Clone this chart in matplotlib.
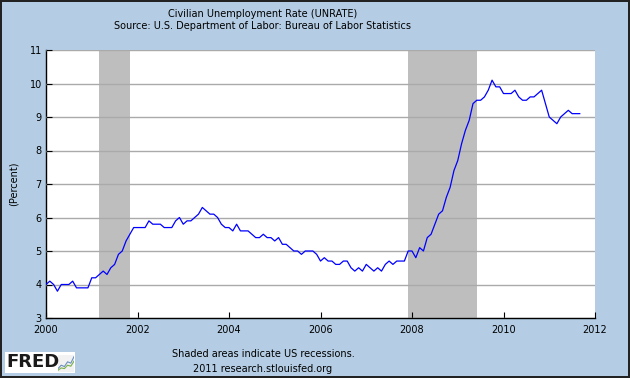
import numpy as np
import matplotlib.pyplot as plt
from matplotlib.patches import Rectangle

# Civilian unemployment rate, monthly, Jan 2000 - Sep 2011 (percent)
rate_2000 = [4.0, 4.1, 4.0, 3.8, 4.0, 4.0, 4.0, 4.1, 3.9, 3.9, 3.9, 3.9]
rate_2001 = [4.2, 4.2, 4.3, 4.4, 4.3, 4.5, 4.6, 4.9, 5.0, 5.3, 5.5, 5.7]
rate_2002 = [5.7, 5.7, 5.7, 5.9, 5.8, 5.8, 5.8, 5.7, 5.7, 5.7, 5.9, 6.0]
rate_2003 = [5.8, 5.9, 5.9, 6.0, 6.1, 6.3, 6.2, 6.1, 6.1, 6.0, 5.8, 5.7]
rate_2004 = [5.7, 5.6, 5.8, 5.6, 5.6, 5.6, 5.5, 5.4, 5.4, 5.5, 5.4, 5.4]
rate_2005 = [5.3, 5.4, 5.2, 5.2, 5.1, 5.0, 5.0, 4.9, 5.0, 5.0, 5.0, 4.9]
rate_2006 = [4.7, 4.8, 4.7, 4.7, 4.6, 4.6, 4.7, 4.7, 4.5, 4.4, 4.5, 4.4]
rate_2007 = [4.6, 4.5, 4.4, 4.5, 4.4, 4.6, 4.7, 4.6, 4.7, 4.7, 4.7, 5.0]
rate_2008 = [5.0, 4.8, 5.1, 5.0, 5.4, 5.5, 5.8, 6.1, 6.2, 6.6, 6.9, 7.4]
rate_2009 = [7.7, 8.2, 8.6, 8.9, 9.4, 9.5, 9.5, 9.6, 9.8, 10.1, 9.9, 9.9]
rate_2010 = [9.7, 9.7, 9.7, 9.8, 9.6, 9.5, 9.5, 9.6, 9.6, 9.7, 9.8, 9.4]
rate_2011 = [9.0, 8.9, 8.8, 9.0, 9.1, 9.2, 9.1, 9.1, 9.1]

rates = (rate_2000 + rate_2001 + rate_2002 + rate_2003 + rate_2004 + rate_2005
         + rate_2006 + rate_2007 + rate_2008 + rate_2009 + rate_2010 + rate_2011)
dates = 2000 + np.arange(len(rates)) / 12.0

# recessions (start, end) as decimal years
recessions = [(2001 + 2 / 12, 2001 + 10 / 12), (2007 + 11 / 12, 2009 + 5 / 12)]

x_ticks = [2000, 2002, 2004, 2006, 2008, 2010, 2012]
y_ticks = [3, 4, 5, 6, 7, 8, 9, 10, 11]

bg = '#B4CDE4'
fs = 7

fig = plt.figure(figsize=(6.3, 3.78), dpi=100)
fig.patch.set_facecolor(bg)
fig.patch.set_edgecolor('#222222')
fig.patch.set_linewidth(1.5)

ax = fig.add_axes([46 / 630, 60 / 378, 549 / 630, 268 / 378])
ax.set_facecolor('white')

for start, end in recessions:
    ax.axvspan(start, end, color='#BEBEBE', lw=0, zorder=1)

ax.plot(dates, rates, color='#0000FF', lw=0.9, zorder=3)

ax.set_xlim(2000, 2012)
ax.set_ylim(3, 11)
ax.set_xticks(x_ticks)
ax.set_yticks(y_ticks)
ax.set_xticklabels([str(t) for t in x_ticks], fontsize=fs)
ax.set_yticklabels([str(t) for t in y_ticks], fontsize=fs)
ax.tick_params(direction='in', length=4, width=0.8, pad=3)
ax.tick_params(axis='x', pad=5)

ax.yaxis.grid(True, color='#AAAAAA', lw=1.0, zorder=2)
ax.set_axisbelow(False)
for s in ['top', 'right']:
    ax.spines[s].set_visible(False)
for s in ['left', 'bottom']:
    ax.spines[s].set_color('black')
    ax.spines[s].set_linewidth(1.0)

ax.set_ylabel('(Percent)', fontsize=fs, labelpad=8)

fig.text(263 / 630, 1 - 14 / 378, 'Civilian Unemployment Rate (UNRATE)',
         ha='center', va='center', fontsize=fs)
fig.text(263 / 630, 1 - 26 / 378, 'Source: U.S. Department of Labor: Bureau of Labor Statistics',
         ha='center', va='center', fontsize=fs)
fig.text(263 / 630, 1 - 354 / 378, 'Shaded areas indicate US recessions.',
         ha='center', va='center', fontsize=fs)
fig.text(263 / 630, 1 - 369 / 378, '2011 research.stlouisfed.org',
         ha='center', va='center', fontsize=fs)

# FRED logo
fig.patches.append(Rectangle((5 / 630, 1 - 373 / 378), 70 / 630, 21 / 378,
                             transform=fig.transFigure, facecolor='white',
                             edgecolor='none', zorder=0))
fig.text(6 / 630, 1 - 362 / 378, 'FRED', ha='left', va='center',
         fontsize=13, fontweight='bold', color='#1a1a1a')
icon = fig.add_axes([58 / 630, 1 - 372 / 378, 16 / 630, 17 / 378])
icon.set_zorder(3)
icon.set_facecolor('#F2F2F2')
icon.plot([0, 1, 2, 3, 4, 5], [1, 2, 1.6, 3, 2.6, 4.5], color='#6a8fc0', lw=0.8)
icon.plot([0, 1, 2, 3, 4, 5], [0.5, 1.2, 1.0, 2.0, 1.7, 3.2], color='#7ab04a', lw=0.8)
icon.set_xlim(0, 5)
icon.set_ylim(0, 5)
icon.set_xticks([])
icon.set_yticks([])
for s in icon.spines.values():
    s.set_visible(False)

fig.savefig('out.png', dpi=100, facecolor=bg, edgecolor='#222222')
